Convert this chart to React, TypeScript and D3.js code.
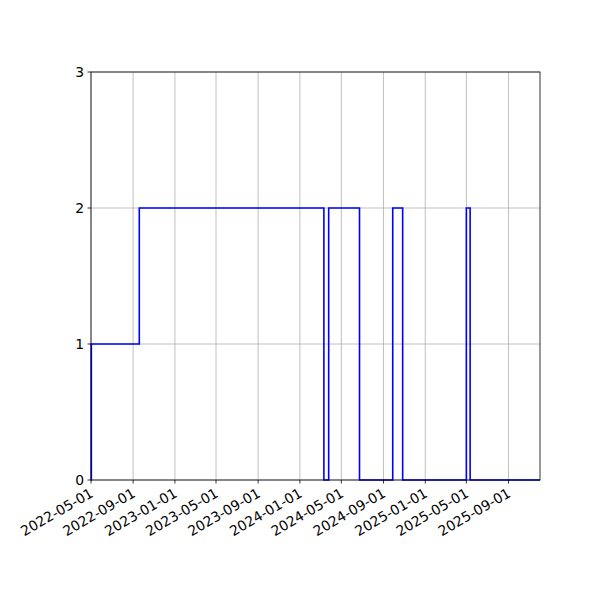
import React from "react";
import * as d3 from "d3";

const dates: string[] = [
  "2022-05-01", "2022-05-02", "2022-09-19", "2024-03-11", "2024-03-25",
  "2024-06-23", "2024-09-28", "2024-10-27", "2025-05-01", "2025-05-12", "2025-12-02",
];
const values: number[] = [0, 1, 2, 0, 2, 0, 2, 0, 2, 0, 0];
const xTickLabels: string[] = [
  "2022-05-01", "2022-09-01", "2023-01-01", "2023-05-01", "2023-09-01", "2024-01-01",
  "2024-05-01", "2024-09-01", "2025-01-01", "2025-05-01", "2025-09-01",
];
const yTicks: number[] = [0, 1, 2, 3];

const parse = d3.utcParse("%Y-%m-%d");

export default function App() {
  const W = 600, H = 600;
  const left = 91, right = 540, top = 72, bottom = 480;
  const data = dates.map((d, i) => ({ date: parse(d) as Date, value: values[i] }));
  const x = d3.scaleUtc()
    .domain([parse("2022-05-01") as Date, parse("2025-12-02") as Date])
    .range([left, right]);
  const y = d3.scaleLinear().domain([0, 3]).range([bottom, top]);
  const line = d3.line<{ date: Date; value: number }>()
    .x(d => x(d.date))
    .y(d => y(d.value))
    .curve(d3.curveStepAfter);
  const font = "DejaVu Sans, sans-serif";
  const fs = 13.9;
  return (
    <svg width={W} height={H} style={{ position: "absolute", left: 0, top: 0, background: "#fff" }}>
      <rect x={0} y={0} width={W} height={H} fill="#fff" />
      {xTickLabels.map(t => {
        const px = x(parse(t) as Date);
        return <line key={"gx" + t} x1={px} x2={px} y1={top} y2={bottom} stroke="#b0b0b0" strokeWidth={0.8} />;
      })}
      {yTicks.map(t => (
        <line key={"gy" + t} x1={left} x2={right} y1={y(t)} y2={y(t)} stroke="#b0b0b0" strokeWidth={0.8} />
      ))}
      <path d={line(data) || ""} fill="none" stroke="#0000ff" strokeWidth={1.6} />
      <rect x={left} y={top} width={right - left} height={bottom - top} fill="none" stroke="#000" strokeWidth={0.8} />
      {xTickLabels.map(t => {
        const px = x(parse(t) as Date);
        return (
          <g key={"tx" + t}>
            <line x1={px} x2={px} y1={bottom} y2={bottom + 3.5} stroke="#000" strokeWidth={0.8} />
            <text
              transform={`translate(${px - 2},${bottom + 7}) rotate(-30)`}
              textAnchor="end"
              dominantBaseline="hanging"
              fontFamily={font}
              fontSize={fs}
              fill="#000"
            >{t}</text>
          </g>
        );
      })}
      {yTicks.map(t => (
        <g key={"ty" + t}>
          <line x1={left - 3.5} x2={left} y1={y(t)} y2={y(t)} stroke="#000" strokeWidth={0.8} />
          <text x={left - 7} y={y(t)} textAnchor="end" dominantBaseline="central" fontFamily={font} fontSize={fs} fill="#000">{t}</text>
        </g>
      ))}
    </svg>
  );
}
